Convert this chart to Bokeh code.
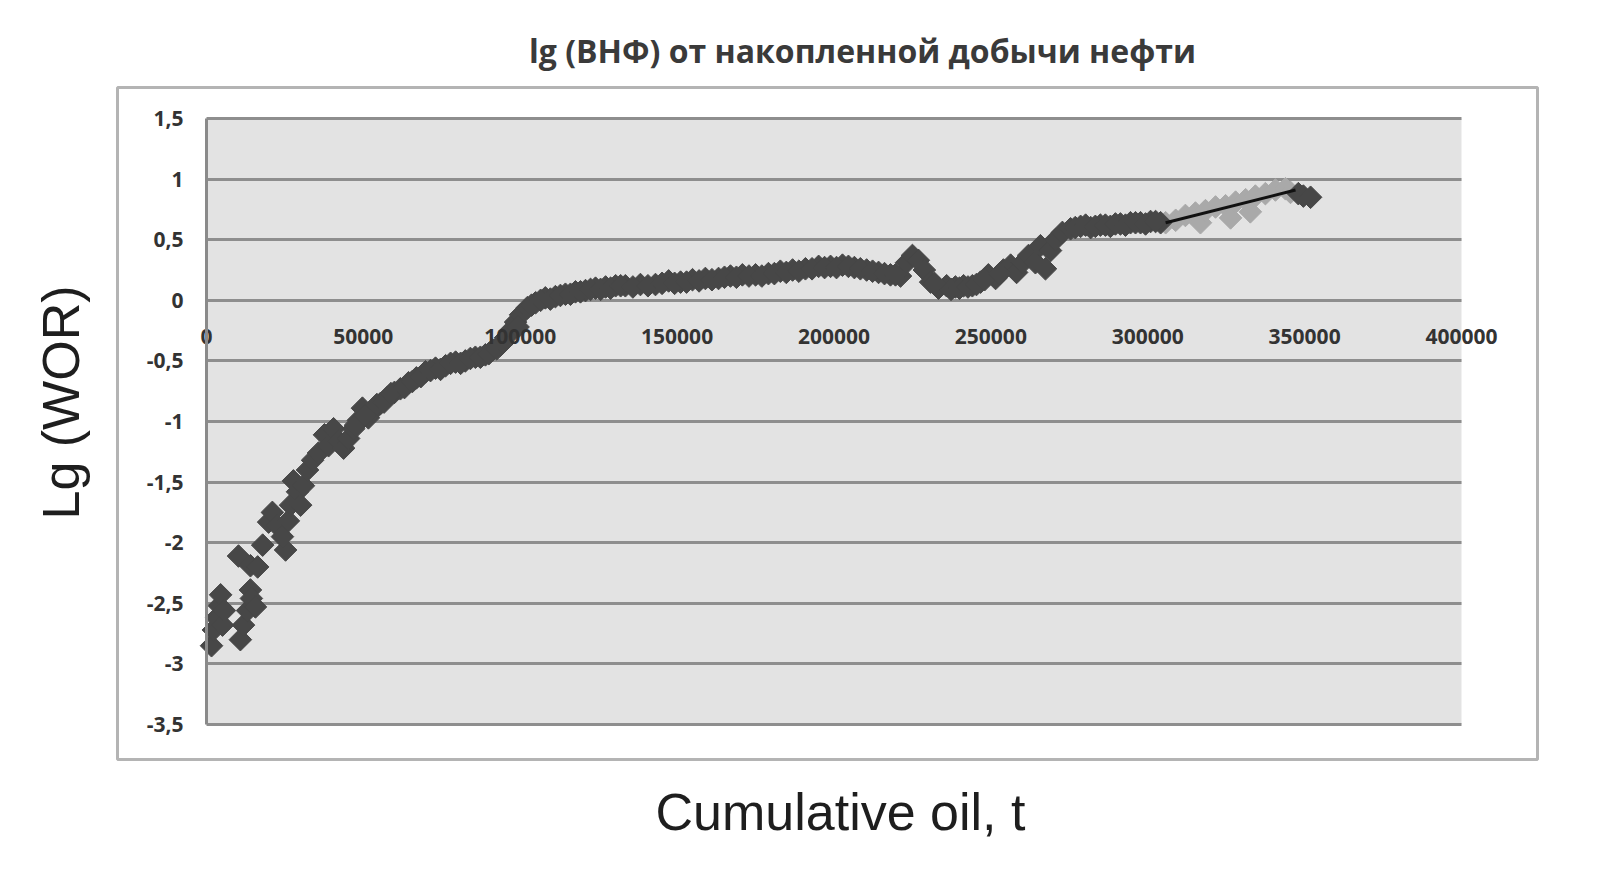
import numpy as np
from bokeh.plotting import figure
from bokeh.models import (FixedTicker, Range1d, LinearAxis, CustomJSTickFormatter,
                          BoxAnnotation, Label, Grid)
from bokeh.embed import file_html
from bokeh.resources import INLINE

# ---------------- data ----------------
cum_oil = [1600, 2200, 3200, 4100, 4500, 5100, 5700, 10800, 11800, 13100, 14000, 14300,
           15600, 10200, 14000, 16300, 17900, 19800, 21000, 22600, 25200, 24200, 26100,
           26800, 27700, 29000, 30000, 30900, 32200, 33800, 35700, 37600, 38900, 40500,
           42100, 43700, 45300, 46900, 48400, 49700, 51600, 53200, 55500, 57700, 59900,
           61800, 64400, 66900, 69800, 73000, 76200, 79400, 82500, 85700, 88900, 91200,
           93700, 95300, 96900, 98500, 100100, 102300, 104900, 108000, 111200, 114400,
           117600, 120800, 124000, 127200, 130400, 133500, 138300, 143100, 147300,
           151100, 154900, 159000, 163200, 167000, 170800, 175000, 179100, 182900,
           186800, 190900, 195100, 198900, 202700, 206500, 210400, 214200, 218000,
           221200, 223100, 225000, 226900, 228800, 230800, 233300, 235900, 238700,
           241300, 244100, 246700, 249200, 251500, 254000, 256300, 258200, 260100,
           262000, 264200, 265800, 267400, 269000, 270600, 272800, 275400, 278600,
           281800, 284900, 288100, 291300, 294500, 297700, 300900, 304100,
           348000, 349600, 351900,
           47500, 50500, 54300, 56600, 58800, 63100, 65600, 68300, 71400, 74600, 77800,
           81000, 84100, 87300, 90000, 92500, 94500, 99300, 103600, 106500, 109600,
           112800, 116000, 119200, 122400, 125600, 128800, 132000, 135900, 140700,
           145200, 149200, 153000, 157000, 161100, 165100, 168900, 172900, 177000,
           181000, 184800, 188800, 193000, 197000, 200800, 204600, 208400, 212300,
           216100, 219600, 232000, 237300, 240000, 242700, 245400, 248000, 252800,
           276900, 280200, 283300, 286500, 289700, 292900, 296100, 299300, 302500]
lg_wor = [-2.85, -2.72, -2.62, -2.52, -2.43, -2.68, -2.56, -2.80, -2.68, -2.56, -2.39, -2.46,
          -2.53, -2.11, -2.19, -2.20, -2.02, -1.83, -1.75, -1.86, -2.06, -1.95, -1.82,
          -1.69, -1.49, -1.58, -1.69, -1.53, -1.40, -1.32, -1.26, -1.11, -1.20, -1.06,
          -1.16, -1.22, -1.14, -1.06, -0.99, -0.89, -0.97, -0.91, -0.85, -0.80, -0.76,
          -0.73, -0.68, -0.64, -0.59, -0.56, -0.54, -0.51, -0.50, -0.47, -0.45, -0.41,
          -0.37, -0.31, -0.25, -0.18, -0.12, -0.06, -0.02, 0.02, 0.03, 0.05,
          0.07, 0.08, 0.10, 0.11, 0.12, 0.12, 0.13, 0.13, 0.16,
          0.15, 0.17, 0.18, 0.18, 0.20, 0.21, 0.21, 0.22, 0.24,
          0.25, 0.26, 0.28, 0.28, 0.29, 0.27, 0.25, 0.23, 0.21,
          0.20, 0.31, 0.37, 0.33, 0.25, 0.15, 0.10, 0.12, 0.11,
          0.12, 0.12, 0.15, 0.21, 0.18, 0.25, 0.29, 0.23, 0.31,
          0.37, 0.31, 0.45, 0.26, 0.41, 0.50, 0.56, 0.59, 0.61,
          0.60, 0.62, 0.61, 0.63, 0.64, 0.64, 0.65, 0.64,
          0.88, 0.86, 0.85,
          -1.03, -0.95, -0.86, -0.84, -0.77, -0.72, -0.67, -0.63, -0.58, -0.57, -0.52,
          -0.52, -0.48, -0.47, -0.44, -0.40, -0.35, -0.22, -0.04, 0.00, 0.01,
          0.04, 0.05, 0.07, 0.09, 0.09, 0.10, 0.12, 0.11, 0.12,
          0.14, 0.14, 0.15, 0.16, 0.17, 0.19, 0.19, 0.20, 0.20,
          0.22, 0.23, 0.24, 0.26, 0.27, 0.27, 0.28, 0.26, 0.24,
          0.22, 0.21, 0.14, 0.09, 0.10, 0.11, 0.13, 0.17, 0.22,
          0.60, 0.62, 0.61, 0.62, 0.63, 0.62, 0.64, 0.63, 0.65]

forecast_oil = [305700, 308900, 312000, 315200, 316800, 318400, 321600, 324800, 326400,
                328000, 331200, 332700, 334300, 337500, 340700, 343900, 345500]
forecast_wor = [0.64, 0.66, 0.70, 0.72, 0.64, 0.74, 0.77, 0.78, 0.68,
                0.81, 0.83, 0.73, 0.86, 0.88, 0.91, 0.92, 0.89]

trend_oil = [305700, 347100]
trend_wor = [0.64, 0.91]

x_ticks = [0, 50000, 100000, 150000, 200000, 250000, 300000, 350000, 400000]
y_ticks = [-3.5, -3, -2.5, -2, -1.5, -1, -0.5, 0, 0.5, 1, 1.5]
x_min, x_max = 0, 400000
y_min, y_max = -3.5, 1.5

title_text = "lg (ВНФ) от накопленной добычи нефти"
x_title = "Cumulative oil, t"
y_title = "Lg (WOR)"

# ---------------- layout geometry (pixels) ----------------
W, H = 1583, 862
PLOT_L, PLOT_R, PLOT_T, PLOT_B = 206, 1461, 118, 724   # grey plot area


def dx(px):
    return x_min + (px - PLOT_L) * (x_max - x_min) / (PLOT_R - PLOT_L)


def dy(py):
    return y_min + (PLOT_B - py) * (y_max - y_min) / (PLOT_B - PLOT_T)


p = figure(width=W, height=H, output_backend="svg", toolbar_location=None,
           x_axis_location=None, y_axis_location=None,
           x_range=Range1d(dx(0), dx(W)), y_range=Range1d(dy(H), dy(0)),
           min_border=0)
p.background_fill_color = "white"
p.border_fill_color = "white"
p.outline_line_color = None
# drop the default full-width grids
p.center = [r for r in p.center if not isinstance(r, Grid)]

# outer chart-area frame
p.add_layout(BoxAnnotation(left=dx(117), right=dx(1537), top=dy(87), bottom=dy(759),
                           fill_color=None, fill_alpha=0, line_color="#b4b4b4",
                           line_alpha=1, line_width=3, level="underlay"))
# grey plot area
p.add_layout(BoxAnnotation(left=x_min, right=x_max, bottom=y_min, top=y_max,
                           fill_color="#e3e3e3", fill_alpha=1, line_color=None,
                           level="underlay"))

# horizontal gridlines limited to the plot area
grid = Grid(dimension=1, ticker=FixedTicker(ticks=y_ticks), grid_line_color="#8e8e8e",
            grid_line_width=3)
try:
    grid.cross_bounds = (x_min, x_max)
    p.add_layout(grid)
except Exception:
    p.segment(x0=[x_min] * len(y_ticks), x1=[x_max] * len(y_ticks), y0=y_ticks,
              y1=y_ticks, line_color="#8e8e8e", line_width=3, level="underlay")

# y axis crossing at x = 0
ya = LinearAxis(fixed_location=0, bounds=(y_min, y_max), ticker=FixedTicker(ticks=y_ticks),
                formatter=CustomJSTickFormatter(code="return String(tick).replace('.', ',');"))
ya.axis_line_color = "#8a8a8a"
ya.axis_line_width = 3
ya.major_tick_line_color = None
ya.minor_tick_line_color = None
ya.major_tick_in = 0
ya.major_tick_out = 0
ya.major_label_standoff = 23
ya.major_label_text_font = "Open Sans"
ya.major_label_text_font_style = "bold"
ya.major_label_text_font_size = "21px"
ya.major_label_text_color = "#333333"
p.add_layout(ya, "left")

# x axis crossing at y = 0
xa = LinearAxis(fixed_location=0, bounds=(x_min, x_max), ticker=FixedTicker(ticks=x_ticks),
                formatter=CustomJSTickFormatter(code="return String(tick);"))
xa.axis_line_color = None
xa.major_tick_line_color = None
xa.minor_tick_line_color = None
xa.major_tick_in = 0
xa.major_tick_out = 0
xa.major_label_standoff = 29
xa.major_label_text_font = "Open Sans"
xa.major_label_text_font_style = "bold"
xa.major_label_text_font_size = "21px"
xa.major_label_text_color = "#333333"
p.add_layout(xa, "below")

# titles
p.add_layout(Label(x=dx(862), y=dy(50), text=title_text, text_align="center",
                   text_baseline="middle", text_font="Open Sans", text_font_style="bold",
                   text_font_size="32px", text_color="#3a3a3a"))
p.add_layout(Label(x=dx(840), y=dy(811), text=x_title, text_align="center",
                   text_baseline="middle", text_font="Liberation Sans",
                   text_font_size="52px", text_color="#1e1e1e"))
p.add_layout(Label(x=dx(60), y=dy(402), text=y_title, text_align="center",
                   text_baseline="middle", angle=np.pi / 2, text_font="Liberation Sans",
                   text_font_size="52px", text_color="#1e1e1e"))

# data
p.scatter(forecast_oil, forecast_wor, marker="square", angle=np.pi / 4, size=16,
          fill_color="#a9a9a9", line_color="#a9a9a9")
p.scatter(cum_oil, lg_wor, marker="square", angle=np.pi / 4, size=16,
          fill_color="#474747", line_color="#474747")
p.line(trend_oil, trend_wor, line_color="#111111", line_width=3)

open("out.html", "w").write(file_html(p, INLINE))
